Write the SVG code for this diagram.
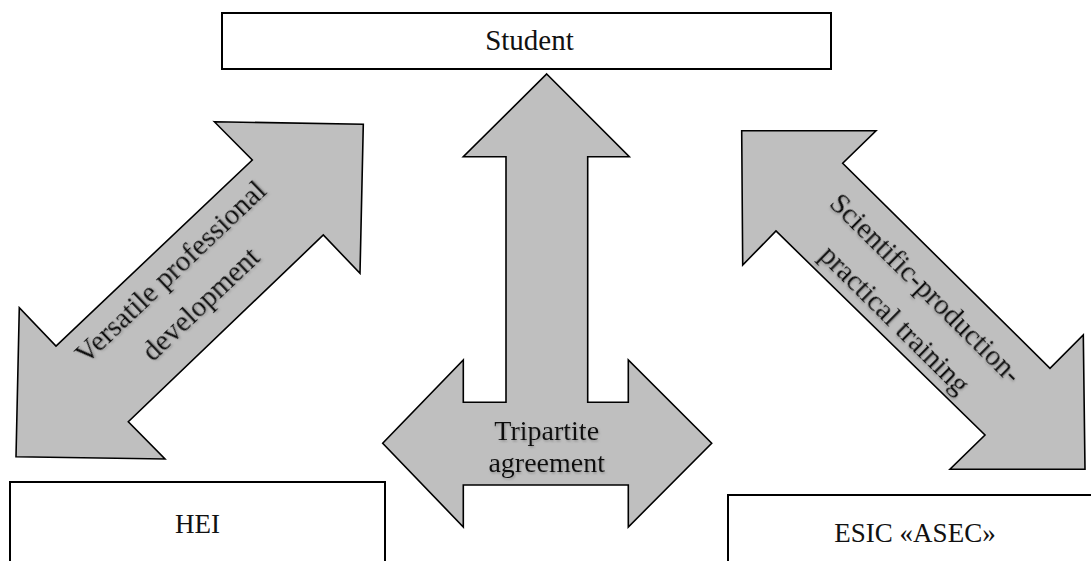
<svg xmlns="http://www.w3.org/2000/svg" width="1091" height="561" viewBox="0 0 1091 561">
<defs>
<filter id="sh" x="-10%" y="-30%" width="120%" height="160%">
<feDropShadow dx="1" dy="1.5" stdDeviation="1" flood-color="#707070" flood-opacity="0.55"/>
</filter>
</defs>
<style>
.box{fill:#ffffff;stroke:#000000;stroke-width:2}
.arrow{fill:#bfbfbf;stroke:#000000;stroke-width:1.6;stroke-linejoin:miter}
.t{font-family:"Liberation Serif","Times New Roman",serif;fill:#111111;text-anchor:middle}
.ts{filter:url(#sh)}
</style>
<rect x="0" y="0" width="1091" height="561" fill="#ffffff"/>
<g id="student">
<rect class="box" x="222" y="13" width="609" height="56"/>
<text class="t" x="529.5" y="49.5" font-size="29">Student</text>
</g>
<g id="hei">
<rect class="box" x="10" y="482" width="375" height="110"/>
<text class="t" x="197.5" y="533" font-size="27">HEI</text>
</g>
<g id="esic">
<rect class="box" x="728" y="495" width="400" height="110"/>
<text class="t" x="915" y="542" font-size="27">ESIC «ASEC»</text>
</g>
<g id="connectors">
<g id="arrow-left">
<polygon class="arrow" points="214.3,121.7 363.3,124.3 360,273.3 323.3,235 128.3,421.7 165,459 16,456.7 19.3,307.7 56,346 252.3,160"/>
<g class="ts" transform="translate(177,279) rotate(-43.5)">
<text class="t" x="0" y="0" font-size="29">Versatile professional</text>
<text class="t" x="0" y="44" font-size="29">development</text>
</g>
</g>
<g id="arrow-center">
<polygon class="arrow" points="546.7,74 629.3,156.7 587.7,156.7 587.7,402.3 628.3,402.3 628.3,360 711.7,443.3 628.3,527 628.3,485 463.3,485 463.3,527 382.7,443.3 463.3,360 463.3,402.3 506,402.3 506,156.7 463.3,156.7"/>
<g class="ts">
<text class="t" x="546.7" y="440" font-size="28">Tripartite</text>
<text class="t" x="546.7" y="472" font-size="28">agreement</text>
</g>
</g>
<g id="arrow-right">
<polygon class="arrow" points="741.7,130.7 876,130.7 842.7,163.3 1050,368.3 1083.3,335 1085,469.3 950,469.3 985,435 776,231 742.7,265"/>
<g class="ts" transform="translate(919,295) rotate(44.7)">
<text class="t" x="0" y="0" font-size="29">Scientific-production-</text>
<text class="t" x="0" y="44" font-size="29">practical training</text>
</g>
</g>
</g>
</svg>
